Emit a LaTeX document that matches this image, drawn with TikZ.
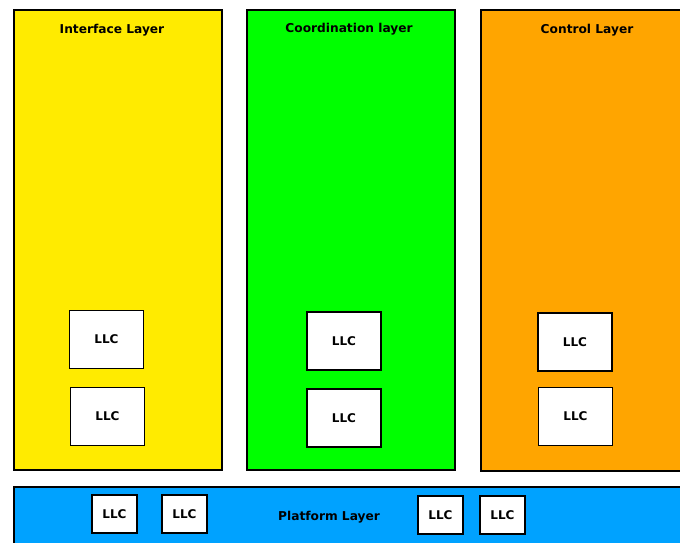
\documentclass[tikz,border=0pt]{standalone}
\usepackage{fontspec}
\setmainfont{DejaVu Sans}
\begin{document}
\begin{tikzpicture}[x=1pt,y=-1pt,
  layer/.style={draw=black,line width=1.8pt},
  llc/.style={draw=black,line width=1.8pt,fill=white,minimum width=74pt,minimum height=58pt,inner sep=0pt,font=\bfseries\fontsize{12}{14}\selectfont},
  smallllc/.style={llc,minimum width=45pt,minimum height=38pt},
  title/.style={font=\bfseries\fontsize{12.2}{14}\selectfont,inner sep=0pt}]
\definecolor{ifyellow}{HTML}{FFEB00}
\definecolor{cogreen}{HTML}{00FF00}
\definecolor{ctorange}{HTML}{FFA500}
\definecolor{plblue}{HTML}{00A2FF}
\useasboundingbox (0,0) rectangle (680,543);
\begin{scope}
\clip (0,0) rectangle (680,543);
% layer panels
\draw[layer,fill=ifyellow] (14,10) rectangle (222,470);
\draw[layer,fill=cogreen] (247,10) rectangle (455,470);
\draw[layer,fill=ctorange] (481,10) rectangle (700,471);
\draw[layer,fill=plblue] (14,487) rectangle (700,560);
\end{scope}
% titles
\node[title] (tif) at (112,30.5) {Interface Layer};
\node[title] (tco) at (349,29.5) {Coordination layer};
\node[title] (tct) at (587,30.5) {Control Layer};
\node[title] (tpl) at (329,517) {Platform Layer};
% interface layer controllers
\node[llc] (if1) at (106.5,339.5) {LLC};
\node[llc] (if2) at (107.5,416.5) {LLC};
% coordination layer controllers
\node[llc] (co1) at (344,341) {LLC};
\node[llc] (co2) at (344,418) {LLC};
% control layer controllers
\node[llc] (ct1) at (575,342) {LLC};
\node[llc] (ct2) at (575.5,416.5) {LLC};
% platform layer controllers
\node[smallllc] (pl1) at (114.5,514) {LLC};
\node[smallllc] (pl2) at (184.5,514) {LLC};
\node[smallllc] (pl3) at (440.5,515) {LLC};
\node[smallllc] (pl4) at (502.5,515) {LLC};
\end{tikzpicture}
\end{document}
